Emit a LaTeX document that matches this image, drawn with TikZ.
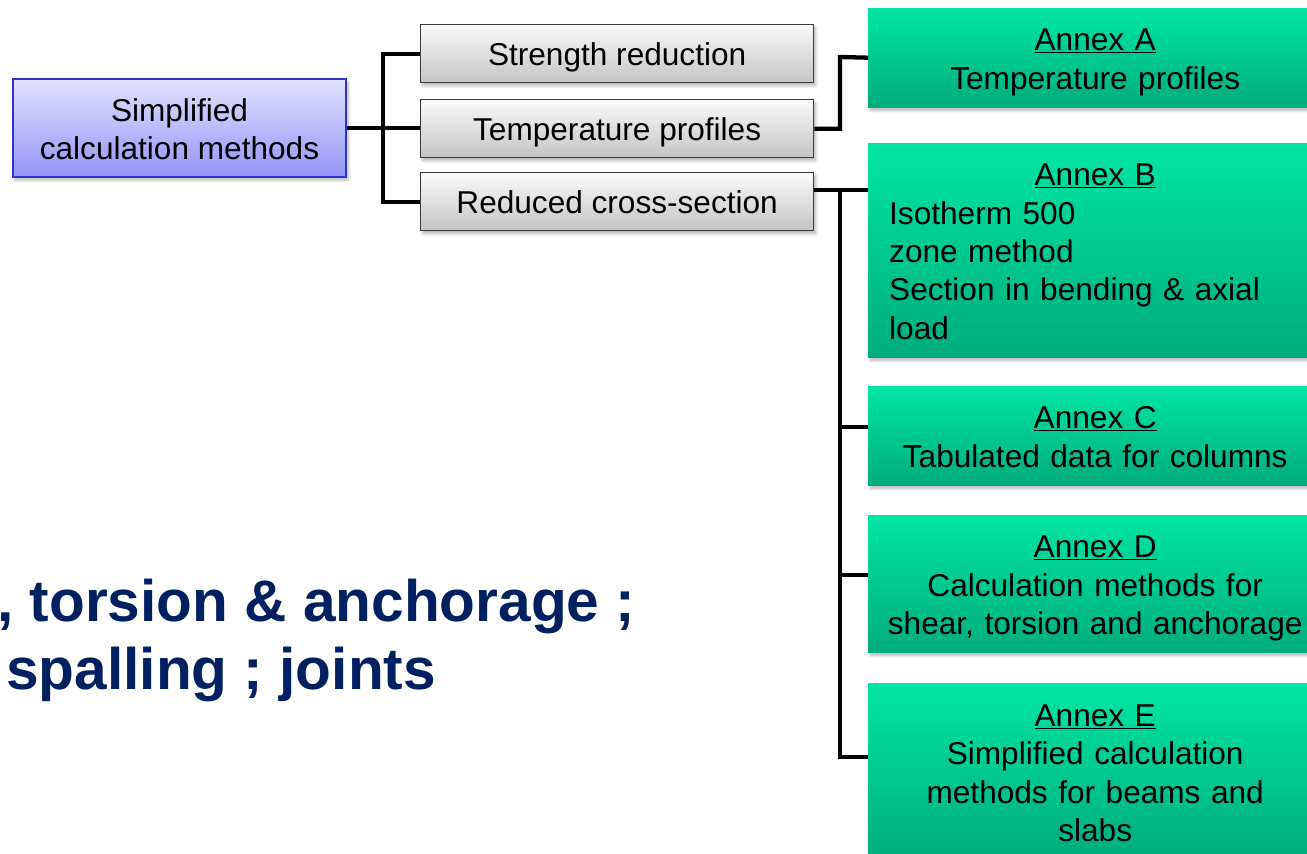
\documentclass[tikz,border=0pt]{standalone}
\usepackage{fontspec}
\setmainfont{Liberation Sans}
\usetikzlibrary{shadows.blur}
\definecolor{navy}{RGB}{0,32,96}
\definecolor{mainedge}{RGB}{51,51,204}
\definecolor{maintop}{RGB}{226,226,255}
\definecolor{mainbot}{RGB}{148,148,248}
\definecolor{graytop}{RGB}{250,250,250}
\definecolor{graybot}{RGB}{196,196,196}
\definecolor{grayedge}{RGB}{60,60,60}
\definecolor{greentop}{RGB}{0,230,164}
\definecolor{greenbot}{RGB}{0,172,124}
% fixed first-line height and last-line depth, so every box centres its text alike
\newcommand\hs{\rule{0pt}{31.6pt}}
\newcommand\ds{\rule[-7pt]{0pt}{7pt}}
\begin{document}
\begin{tikzpicture}[x=1pt,y=-1pt,
  txt/.style={font=\fontsize{31.6}{38.4}\selectfont},
  softshadow/.style={blur shadow={shadow xshift=2pt,shadow yshift=-3pt,
      shadow blur radius=3pt,shadow blur steps=6,shadow opacity=30}},
  mainbox/.style={txt,draw=mainedge,line width=2pt,top color=maintop,
      bottom color=mainbot,minimum width=333pt,minimum height=98pt,
      align=center,anchor=north west,inner sep=0pt,softshadow},
  graybox/.style={txt,draw=grayedge,line width=1.3pt,top color=graytop,
      bottom color=graybot,minimum width=393pt,minimum height=58pt,
      anchor=north west,inner sep=0pt,softshadow},
  annex/.style={txt,top color=greentop,bottom color=greenbot,
      minimum width=454pt,anchor=north west,inner xsep=7pt,inner ysep=0pt,
      text width=440pt,align=center,softshadow},
  conn/.style={draw=black,line width=4.3pt},
  bigtxt/.style={font=\bfseries\fontsize{58.6}{68}\selectfont,text=navy,
      anchor=base west,inner sep=0pt}
]
\useasboundingbox (0,0) rectangle (1307,854);
\clip (0,0) rectangle (1307,854);

% root and first level
\node[mainbox] (main) at (12,78) {\hs Simplified\\calculation methods\ds};
\node[graybox] (sr) at (420,24)  {\hs Strength reduction\ds};
\node[graybox] (tp) at (420,99)  {\hs Temperature profiles\ds};
\node[graybox] (rc) at (420,172) {\hs Reduced cross-section\ds};

% annexes
\node[annex,minimum height=99pt] (annA) at (868,8)
  {\hs\underline{Annex A}\\Temperature profiles\ds};
\node[annex,minimum height=214pt,align=left,inner xsep=21pt,text width=412pt]
  (annB) at (868,143)
  {\hs\makebox[412pt]{\underline{Annex B}}\\Isotherm 500\\zone method\\
   Section in bending \& axial\\load\ds};
\node[annex,minimum height=99pt] (annC) at (868,386)
  {\hs\underline{Annex C}\\Tabulated data for columns\ds};
\node[annex,minimum height=137pt] (annD) at (868,515)
  {\hs\underline{Annex D}\\Calculation methods for\\shear, torsion and anchorage\ds};
\node[annex,minimum height=177pt] (annE) at (868,683)
  {\hs\underline{Annex E}\\Simplified calculation\\methods for beams and\\slabs\ds};

% connector points
\coordinate (busA) at (383,127);
\coordinate (kA) at (840,57);
\coordinate (bx) at (840,0);
\coordinate (pB) at ([yshift=-47pt]annB.north west);
\coordinate (pC) at ([yshift=-41pt]annC.north west);
\coordinate (pD) at ([yshift=-60pt]annD.north west);
\coordinate (pE) at ([yshift=-74pt]annE.north west);

% connectors
\draw[conn] (main.east) -- (main.east -| tp.west);
\draw[conn] (sr.west) -| (busA) |- (rc.west);
\draw[conn] (tp.east) -| (kA) -- (annA.west);
\draw[conn] (rc.east |- pB) -- (pB);
\draw[conn] (bx |- pB) -- (bx |- pE) -- (pE);
\draw[conn] (bx |- pC) -- (pC);
\draw[conn] (bx |- pD) -- (pD);

% bold text lines
\node[bigtxt] (t1) at (-3,621) {, torsion \& anchorage ;};
\node[bigtxt] (t2) at (6,689) {spalling ; joints};
\end{tikzpicture}
\end{document}
